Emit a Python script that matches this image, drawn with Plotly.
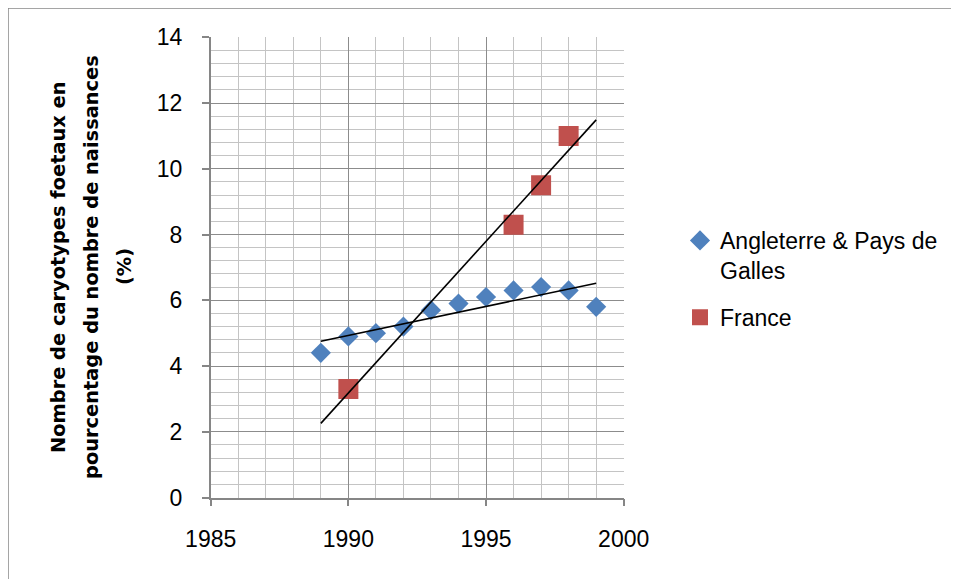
import numpy as np
import plotly.graph_objects as go

# Data
years_uk = [1989, 1990, 1991, 1992, 1993, 1994, 1995, 1996, 1997, 1998, 1999]
values_uk = [4.4, 4.9, 5.0, 5.2, 5.7, 5.9, 6.1, 6.3, 6.4, 6.3, 5.8]
years_fr = [1990, 1996, 1997, 1998]
values_fr = [3.3, 8.3, 9.5, 11.0]

trend_uk_years = [1989, 1999]
trend_fr_years = [1989, 1999]

name_uk = "Angleterre & Pays de<br>Galles"
name_fr = "France"

x_ticks = [1985, 1990, 1995, 2000]
y_ticks = [0, 2, 4, 6, 8, 10, 12, 14]

y_title_lines = ["Nombre de caryotypes foetaux en",
                 "pourcentage du nombre de naissances",
                 "(%)"]

BLUE = "#4F81BD"
RED = "#C0504D"

W, H = 959, 579
OFF = 8  # page body offset

def px_x(p):
    return (p - OFF) / W

def px_y(p):
    return 1 - (p - OFF) / H

# linear trend lines (least squares) from the data
k_uk = np.polyfit(years_uk, values_uk, 1)
k_fr = np.polyfit(years_fr, values_fr, 1)
trend_uk_vals = list(np.polyval(k_uk, trend_uk_years))
trend_fr_vals = list(np.polyval(k_fr, trend_fr_years))

fig = go.Figure()

fig.add_trace(go.Scatter(
    x=years_uk, y=values_uk, mode="markers", name=name_uk,
    marker=dict(symbol="diamond", size=15.5, color=BLUE, line=dict(width=0)),
    legendgroup="uk",
))
fig.add_trace(go.Scatter(
    x=years_fr, y=values_fr, mode="markers", name=name_fr,
    marker=dict(symbol="square", size=20, color=RED, line=dict(width=0)),
    legendgroup="fr",
))
fig.add_trace(go.Scatter(
    x=trend_uk_years, y=trend_uk_vals, mode="lines",
    line=dict(color="black", width=1.6), showlegend=False, hoverinfo="skip",
))
fig.add_trace(go.Scatter(
    x=trend_fr_years, y=trend_fr_vals, mode="lines",
    line=dict(color="black", width=1.6), showlegend=False, hoverinfo="skip",
))

tickfont = dict(family="Liberation Sans, Arial, sans-serif", size=23, color="black")

fig.update_xaxes(
    range=[1985, 2000], domain=[px_x(210.7), px_x(623.7)],
    tickmode="array", tickvals=x_ticks, ticktext=[str(t) for t in x_ticks],
    showgrid=True, gridcolor="#8C8C8C", gridwidth=1.2,
    minor=dict(dtick=1, showgrid=True, gridcolor="#C4C4C4", gridwidth=1.2,
               ticks=""),
    showline=True, linecolor="#868686", linewidth=1.5,
    ticks="outside", ticklen=7, tickcolor="#868686", tickwidth=1.5,
    tickfont=tickfont, zeroline=False, ticklabelstandoff=13,
)
fig.update_yaxes(
    range=[0, 14], domain=[px_y(497.5), px_y(37.3)],
    tickmode="array", tickvals=y_ticks, ticktext=[str(t) for t in y_ticks],
    showgrid=True, gridcolor="#8C8C8C", gridwidth=1.2,
    minor=dict(dtick=0.4, showgrid=True, gridcolor="#C4C4C4", gridwidth=1.2,
               ticks=""),
    showline=True, linecolor="#868686", linewidth=1.5,
    ticks="outside", ticklen=7, tickcolor="#868686", tickwidth=1.5,
    tickfont=tickfont, zeroline=False, ticklabelstandoff=15,
)

annotations = []
for i, (line, xp) in enumerate(zip(y_title_lines, [58, 91, 124])):
    annotations.append(dict(
        text="<b>" + line + "</b>", x=px_x(xp), y=px_y(267),
        xref="paper", yref="paper", textangle=-90,
        xanchor="center", yanchor="middle", showarrow=False,
        font=dict(family="DejaVu Sans, sans-serif", size=19.4, color="black"),
    ))

fig.update_layout(
    width=W, height=H,
    margin=dict(l=0, r=0, t=0, b=0, autoexpand=False),
    paper_bgcolor="white", plot_bgcolor="white",
    annotations=annotations,
    showlegend=True,
    legend=dict(
        x=px_x(680), y=px_y(219), xanchor="left", yanchor="top",
        font=dict(family="Liberation Sans, Arial, sans-serif", size=23, color="black"),
        bgcolor="rgba(0,0,0,0)", borderwidth=0, valign="top",
        tracegroupgap=14, itemclick=False,
    ),
    shapes=[dict(
        type="rect", xref="paper", yref="paper",
        x0=px_x(7.5), x1=1.2, y0=-0.2, y1=px_y(7.5),
        line=dict(color="#888888", width=2.5), fillcolor="rgba(0,0,0,0)",
        layer="below",
    )],
)

fig.write_html("out.html")
